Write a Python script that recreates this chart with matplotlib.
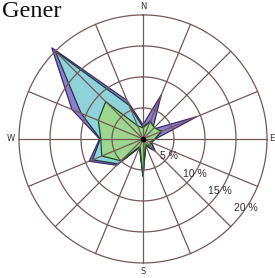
import numpy as np
import matplotlib
matplotlib.use("Agg")
import matplotlib.pyplot as plt

# 16 compass directions, clockwise from north
directions = ["N", "NNE", "NE", "ENE", "E", "ESE", "SE", "SSE",
              "S", "SSW", "SW", "WSW", "W", "WNW", "NW", "NNW"]

# frequency in percent (cumulative classes, outermost first)
outer = [2.3, 7.7, 2.2, 9.4, 2.0, 1.5, 2.8, 1.2,
         6.1, 1.5, 6.0, 9.4, 7.0, 12.4, 20.8, 6.7]
middle = [1.9, 3.2, 2.0, 3.3, 1.9, 1.4, 2.6, 1.1,
          6.0, 1.4, 5.7, 8.8, 6.9, 10.8, 20.0, 5.9]
inner = [1.8, 3.0, 2.6, 3.2, 1.9, 1.3, 1.6, 1.0,
         6.0, 1.3, 5.0, 7.2, 6.8, 7.8, 8.5, 2.3]

ring_values = [5, 10, 15, 20]
ring_labels = ["5 %", "10 %", "15 %", "20 %"]
compass = ["N", "E", "S", "W"]

angles = np.deg2rad(np.arange(len(directions)) * 22.5)
closed = np.append(angles, angles[0])

fig = plt.figure(figsize=(2.75, 2.78), dpi=100)
ax = fig.add_axes([0.0465, 0.0317, 0.947, 0.937], projection="polar")
ax.set_theta_zero_location("N")
ax.set_theta_direction(-1)
ax.set_ylim(0, 21)
ax.grid(False)
ax.set_xticks([])
ax.set_yticks([])
ax.spines["polar"].set_visible(False)
ax.patch.set_alpha(0)

series = [(outer, "#8e7fcb", "#3b2a70"),
          (middle, "#8fd2da", "#1d3a3a"),
          (inner, "#9dd68e", "#1f4a1f")]
for vals, fc, ec in series:
    r = np.append(vals, vals[0])
    ax.fill(closed, r, facecolor=fc, edgecolor=ec, linewidth=0.9, zorder=2)

# grid drawn on top of the roses
grid_col = "#735858"
t = np.linspace(0, 2 * np.pi, 361)
for rv in ring_values:
    ax.plot(t, np.full_like(t, rv), color=grid_col, lw=0.9, zorder=3)
for a in angles:
    ax.plot([a, a], [0, ring_values[-1]], color=grid_col, lw=0.9, zorder=3)

ax.plot([0], [0], "o", color="black", ms=3, zorder=4)

for rv, lab in zip(ring_values, ring_labels):
    ax.text(np.deg2rad(124), rv, lab, ha="center", va="center", fontsize=7.5,
            color="#3a2a2a", family="Liberation Sans", zorder=5)

compass_r = [21.3, 20.7, 21.3, 21.3]
for i, lab in enumerate(compass):
    ax.text(np.deg2rad(i * 90), compass_r[i], lab, ha="center", va="center",
            fontsize=6, color="#333333", family="DejaVu Sans", zorder=5)

fig.text(0.008, 1 - 17 / 278, "Gener", ha="left", va="baseline", fontsize=17.5,
         family="Liberation Serif", color="#111111")

fig.savefig("out.png", dpi=100)
